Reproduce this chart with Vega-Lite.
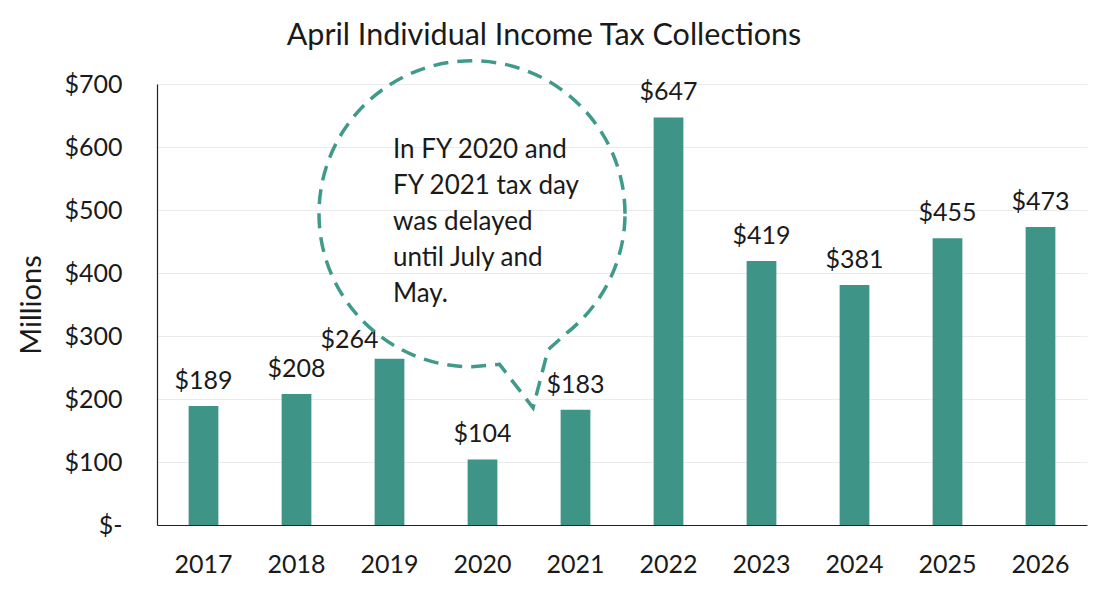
{
  "$schema": "https://vega.github.io/schema/vega-lite/v6.json",
  "width": 930,
  "height": 441,
  "autosize": {"type": "none"},
  "padding": {"left": 157, "top": 84, "right": 33, "bottom": 65},
  "background": "white",
  "config": {"font": "Lato", "view": {"stroke": null}},
  "title": {
    "text": "April Individual Income Tax Collections",
    "font": "Lato",
    "fontSize": 30.5,
    "fontWeight": "normal",
    "color": "#1a1a1a",
    "anchor": "middle",
    "dx": -78,
    "offset": 2
  },
  "data": {
    "values": [
      {"year": "2017", "value": 189},
      {"year": "2018", "value": 208},
      {"year": "2019", "value": 264},
      {"year": "2020", "value": 104},
      {"year": "2021", "value": 183},
      {"year": "2022", "value": 647},
      {"year": "2023", "value": 419},
      {"year": "2024", "value": 381},
      {"year": "2025", "value": 455},
      {"year": "2026", "value": 473}
    ]
  },
  "encoding": {
    "x": {
      "field": "year",
      "type": "nominal",
      "scale": {"paddingInner": 0.68, "paddingOuter": 0.34},
      "axis": {
        "title": null,
        "labelAngle": 0,
        "labelFontSize": 25,
        "labelColor": "#1a1a1a",
        "labelPadding": 27,
        "ticks": false,
        "domainColor": "#222222",
        "domainWidth": 1.2,
        "grid": false
      }
    },
    "y": {
      "field": "value",
      "type": "quantitative",
      "title": "Millions",
      "scale": {"domain": [0, 700], "nice": false},
      "axis": {
        "values": [0, 100, 200, 300, 400, 500, 600, 700],
        "labelExpr": "datum.value === 0 ? '$-  ' : '$' + datum.label",
        "labelFontSize": 25,
        "labelColor": "#1a1a1a",
        "labelPadding": 35,
        "ticks": false,
        "grid": true,
        "gridColor": "#EBEBEB",
        "gridWidth": 1,
        "domain": true,
        "domainColor": "#222222",
        "domainWidth": 1.2,
        "titleFontSize": 29,
        "titleFontWeight": "normal",
        "titleColor": "#1a1a1a",
        "titleAngle": -90,
        "titleX": -126,
        "titleY": 220.5,
        "titleAlign": "center",
        "titleBaseline": "middle"
      }
    }
  },
  "layer": [
    {"mark": {"type": "bar", "color": "#3F9488"}},
    {
      "transform": [{"filter": "datum.year !== '2019'"}],
      "mark": {"type": "text", "fontSize": 25, "color": "#1a1a1a", "baseline": "alphabetic", "dy": -17},
      "encoding": {"text": {"field": "value", "type": "quantitative", "format": "$d"}}
    },
    {
      "transform": [{"filter": "datum.year === '2019'"}],
      "mark": {"type": "text", "fontSize": 25, "color": "#1a1a1a", "baseline": "alphabetic", "dy": -11, "dx": -40},
      "encoding": {"text": {"field": "value", "type": "quantitative", "format": "$d"}}
    },
    {
      "transform": [{"filter": "datum.year === '2020'"}],
      "mark": {
        "type": "point",
        "shape": "M 1 0 C 1 -0.5523 0.5523 -1 0 -1 C -0.5523 -1 -1 -0.5523 -1 0 C -1 0.5523 -0.5523 1 0 1 L 0.18 0.984 L 0.399 1.268 L 0.497 0.889 L 0.621 0.778 C 0.858 0.589 1 0.304 1 0 Z",
        "size": 93636,
        "filled": false,
        "opacity": 1,
        "stroke": "#3F9A8A",
        "strokeWidth": 3.5,
        "strokeDash": [15, 9],
        "xOffset": -10.5
      },
      "encoding": {"y": {"datum": 494, "type": "quantitative"}}
    },
    {
      "transform": [{"filter": "datum.year === '2020'"}],
      "mark": {
        "type": "text",
        "align": "left",
        "baseline": "middle",
        "lineHeight": 36,
        "fontSize": 26,
        "color": "#1a1a1a",
        "dx": -89.5,
        "text": ["In FY 2020 and", "FY 2021 tax day", "was delayed", "until July and", "May."]
      },
      "encoding": {
        "y": {"datum": 595, "type": "quantitative"}
      }
    }
  ]
}
